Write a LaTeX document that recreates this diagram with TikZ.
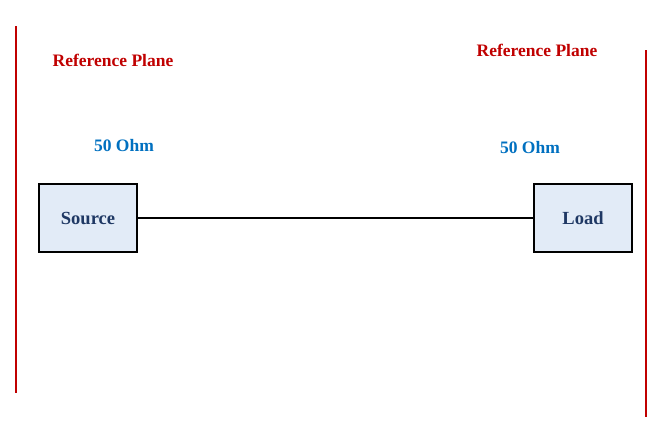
\documentclass[tikz,border=0pt]{standalone}
\usepackage{fontspec}
\setmainfont{Liberation Serif}
\definecolor{refred}{HTML}{C00000}
\definecolor{ohmblue}{HTML}{0070C0}
\definecolor{navy}{HTML}{1F3864}
\definecolor{boxfill}{HTML}{E2EBF7}
\begin{document}
\begin{tikzpicture}[x=1pt,y=-1pt,
  plane/.style={draw=refred,line width=2pt},
  planelabel/.style={text=refred,font=\bfseries\fontsize{17.5}{20}\selectfont,inner sep=0pt},
  ohmlabel/.style={text=ohmblue,font=\bfseries\fontsize{17.5}{20}\selectfont,inner sep=0pt},
  blockbox/.style={draw=black,line width=2.5pt,fill=boxfill,minimum width=98pt,minimum height=68pt,inner sep=0pt,text=navy,font=\bfseries\fontsize{18.5}{21}\selectfont},
  wire/.style={draw=black,line width=1.5pt}]
\useasboundingbox (0,0) rectangle (661,432);
\coordinate (lt) at (16,26);
\coordinate (lb) at (16,393);
\coordinate (rt) at (646,50);
\coordinate (rb) at (646,417);
\draw[plane] (lt) -- (lb);
\draw[plane] (rt) -- (rb);
\node[planelabel] (rpl) at (113,60) {Reference Plane};
\node[planelabel] (rpr) at (537,50) {Reference Plane};
\node[ohmlabel] (ohml) at (124,146) {50 Ohm};
\node[ohmlabel] (ohmr) at (530,148) {50 Ohm};
\node[blockbox] (src) at (88,218) {Source};
\node[blockbox] (load) at (583,218) {Load};
\draw[wire] (src.east) -- (load.west);
\end{tikzpicture}
\end{document}
